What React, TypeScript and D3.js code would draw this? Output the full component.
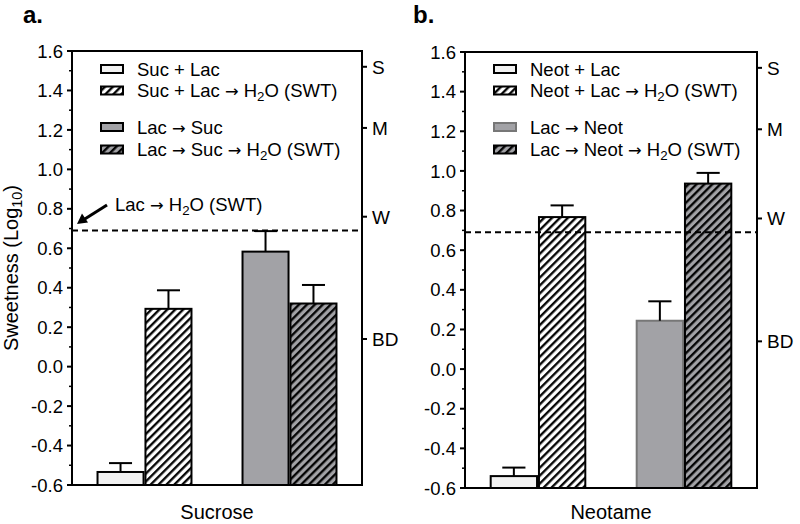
import React from "react";
import * as d3 from "d3";

// ---- data ----
const groups = ["g1", "g2"];
const series = ["mix", "mixSwt", "seq", "seqSwt"];

const sucroseValues = [-0.534, 0.293, 0.583, 0.32];
const sucroseErrors = [0.045, 0.094, 0.104, 0.094];
const neotameValues = [-0.54, 0.767, 0.244, 0.936];
const neotameErrors = [0.043, 0.059, 0.098, 0.054];

const sucroseLegend = ["Suc + Lac", "Suc + Lac", "Lac", "Lac"];
const neotameLegend = ["Neot + Lac", "Neot + Lac", "Lac", "Lac"];

const leftTicks = [-0.6, -0.4, -0.2, 0.0, 0.2, 0.4, 0.6, 0.8, 1.0, 1.2, 1.4, 1.6];
const minorTicks = [-0.5, -0.3, -0.1, 0.1, 0.3, 0.5, 0.7, 0.9, 1.1, 1.3, 1.5];
const rightLabels = ["S", "M", "W", "BD"];
const rightValues = [1.52, 1.21, 0.76, 0.14];
const waterLine = 0.69;

const FONT = "'Liberation Sans', Arial, Helvetica, sans-serif";
const ARROW_FONT = "'DejaVu Sans', sans-serif";
const GRAY = "#a2a2a6";
const LIGHT = "#f1f1f1";

type PanelProps = {
  left: number; right: number; top: number; bottom: number;
  values: number[]; errors: number[]; xLabel: string; tag: string; tagX: number;
  legendNames: string[]; sugar: string; seqStroke: string; annotate: boolean;
};

function Arrow() {
  return <tspan fontFamily={ARROW_FONT} fontSize="0.88em">→</tspan>;
}

function H2O() {
  return (
    <>
      H<tspan dy={4} fontSize="0.72em">2</tspan><tspan dy={-4}>O (SWT)</tspan>
    </>
  );
}

const fmt = (t: number) => d3.format(".1f")(t).replace("\u2212", "-");

function Panel(p: PanelProps) {
  const y = d3.scaleLinear().domain([-0.6, 1.6]).range([p.bottom, p.top]);
  const x0 = d3.scaleBand<string>().domain(groups).range([p.left, p.right]).paddingInner(0.352).paddingOuter(0.176);
  const x1 = d3.scaleBand<string>().domain(["a", "b"]).range([0, x0.bandwidth()]).paddingInner(0.04);
  const fills = [LIGHT, "url(#hatchWhite)", GRAY, "url(#hatchGray)"];
  const strokes = ["#000", "#000", p.seqStroke, "#000"];
  const barX = (i: number) => (x0(groups[Math.floor(i / 2)]) as number) + (x1(i % 2 === 0 ? "a" : "b") as number);
  const bw = x1.bandwidth();

  const legendY = [69, 90.5, 127, 149.5];
  const legendTexts = [
    <>{p.legendNames[0]}</>,
    <>{p.legendNames[1]} <Arrow /> <H2O /></>,
    <>{p.legendNames[2]} <Arrow /> {p.sugar}</>,
    <>{p.legendNames[3]} <Arrow /> {p.sugar} <Arrow /> <H2O /></>,
  ];

  return (
    <g fontFamily={FONT}>
      <text x={p.tagX} y={23} fontSize={24} fontWeight="bold">{p.tag}</text>
      {/* bars */}
      {series.map((s, i) => {
        const v = p.values[i];
        const x = barX(i);
        return (
          <g key={s}>
            <rect x={x} y={y(v)} width={bw} height={y(-0.6) - y(v)} fill={fills[i]} stroke={strokes[i]} strokeWidth={2} />
            <line x1={x + bw / 2} x2={x + bw / 2} y1={y(v)} y2={y(v + p.errors[i])} stroke="#000" strokeWidth={2} />
            <line x1={x + bw / 4} x2={x + (3 * bw) / 4} y1={y(v + p.errors[i])} y2={y(v + p.errors[i])} stroke="#000" strokeWidth={2} />
          </g>
        );
      })}
      {/* dashed water line */}
      <line x1={p.left} x2={p.right} y1={y(waterLine)} y2={y(waterLine)} stroke="#000" strokeWidth={2} strokeDasharray="6,4" />
      {/* frame */}
      <rect x={p.left} y={p.top} width={p.right - p.left} height={p.bottom - p.top} fill="none" stroke="#000" strokeWidth={2} />
      {/* left ticks */}
      {leftTicks.map((t) => (
        <g key={t}>
          <line x1={p.left - 5} x2={p.left} y1={y(t)} y2={y(t)} stroke="#000" strokeWidth={2} />
          <text x={p.left - 9} y={y(t)} dy="0.36em" textAnchor="end" fontSize={18.5}>{fmt(t)}</text>
        </g>
      ))}
      {minorTicks.map((t) => (
        <line key={t} x1={p.left - 3} x2={p.left} y1={y(t)} y2={y(t)} stroke="#000" strokeWidth={1.5} />
      ))}
      {/* right ticks */}
      {rightLabels.map((l, i) => (
        <g key={l}>
          <line x1={p.right} x2={p.right + 5} y1={y(rightValues[i])} y2={y(rightValues[i])} stroke="#000" strokeWidth={2} />
          <text x={p.right + 10} y={y(rightValues[i])} dy="0.36em" fontSize={19}>{l}</text>
        </g>
      ))}
      {/* x label */}
      <text x={(p.left + p.right) / 2} y={519} textAnchor="middle" fontSize={20}>{p.xLabel}</text>
      {/* legend */}
      {series.map((s, i) => (
        <g key={s}>
          <rect x={p.left + 29} y={legendY[i] - 4} width={22} height={8} fill={fills[i]} stroke={strokes[i]} strokeWidth={2} />
          <text x={p.left + 65} y={legendY[i]} dy="0.36em" fontSize={18.5}>{legendTexts[i]}</text>
        </g>
      ))}
      {p.annotate && (
        <g>
          <line x1={107} y1={205} x2={84} y2={219.5} stroke="#000" strokeWidth={3} />
          <polygon points="77,224 82,213.5 88,222.5" fill="#000" />
          <text x={115} y={204} dy="0.36em" fontSize={18.5}>Lac <Arrow /> <H2O /></text>
        </g>
      )}
    </g>
  );
}

export default function App() {
  return (
    <svg width={800} height={524} style={{ position: "absolute", left: 0, top: 0, background: "#fff" }}>
      <defs>
        <pattern id="hatchWhite" patternUnits="userSpaceOnUse" width={5.6} height={10} patternTransform="rotate(45)">
          <rect width={5.6} height={10} fill="#fff" />
          <line x1={1.2} x2={1.2} y1={0} y2={10} stroke="#000" strokeWidth={2.3} />
        </pattern>
        <pattern id="hatchGray" patternUnits="userSpaceOnUse" width={5.6} height={10} patternTransform="rotate(45)">
          <rect width={5.6} height={10} fill={GRAY} />
          <line x1={1.2} x2={1.2} y1={0} y2={10} stroke="#000" strokeWidth={2.3} />
        </pattern>
      </defs>
      <rect width={800} height={524} fill="#fff" />
      <text transform="translate(11,268) rotate(-90)" dy="0.36em" textAnchor="middle" fontFamily={FONT} fontSize={20}>
        Sweetness (Log<tspan dy={4} fontSize="0.72em">10</tspan><tspan dy={-4}>)</tspan>
      </text>
      <Panel left={72} right={362} top={51} bottom={485} values={sucroseValues} errors={sucroseErrors}
        xLabel="Sucrose" tag="a." tagX={23} legendNames={sucroseLegend} sugar="Suc" seqStroke="#000" annotate={true} />
      <Panel left={465} right={757} top={52} bottom={488} values={neotameValues} errors={neotameErrors}
        xLabel="Neotame" tag="b." tagX={413} legendNames={neotameLegend} sugar="Neot" seqStroke="#777" annotate={false} />
    </svg>
  );
}
